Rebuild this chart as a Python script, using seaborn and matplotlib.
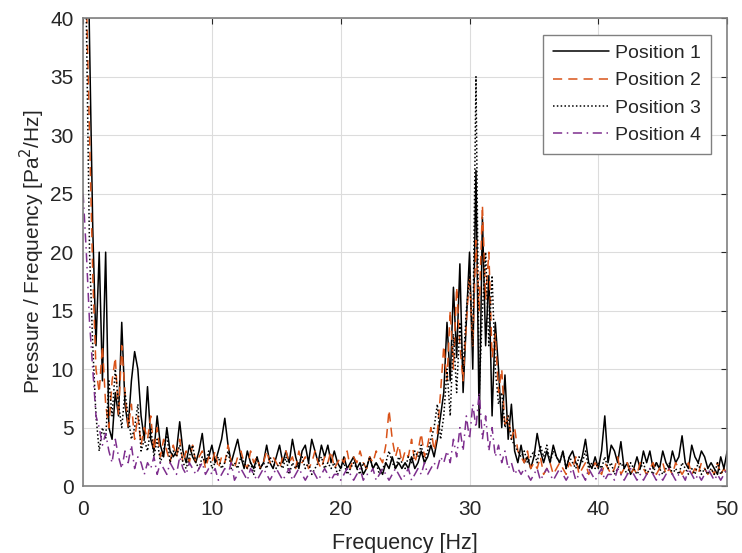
import matplotlib
matplotlib.use("Agg")
import matplotlib.pyplot as plt
import numpy as np
import pandas as pd
import seaborn as sns

# frequency grid [Hz], 0.25 Hz steps
freq = np.arange(0, 50.001, 0.25)

pos1 = [
    60, 55, 38, 22, 12, 20, 9, 20, 5, 4, 8, 6, 14, 7, 5, 9, 11.5, 10, 6, 4,
    8.5, 4, 3, 6, 3.5, 2.5, 5, 3, 2.5, 3, 5.5, 3, 2, 3.5, 2.5, 2, 3, 4.5, 2, 2.5,
    3.5, 2, 3, 4, 5.8, 3.5, 2, 3, 4, 2.5, 1.5, 3, 2, 1.5, 2.5, 1.5, 2, 3.5, 2, 1.5,
    2.5, 3.5, 2, 3, 2, 4, 2.5, 1.5, 3, 3.5, 2, 4, 3, 2, 3.5, 2.5, 3.5, 2, 3, 2,
    1.5, 2.5, 1.5, 2, 2.5, 1.5, 2, 1, 1.5, 2.5, 1.5, 2, 1.5, 1, 2, 1.5, 2.5, 1.5, 2, 1.5,
    2, 1.5, 2.5, 1.5, 2, 3, 2, 2.5, 3.5, 2.5, 4, 6, 8, 14, 9, 17, 11, 19, 8, 14,
    20, 10, 27, 5, 23, 12, 18, 6, 14, 10, 5, 9.5, 4, 7, 3, 2, 3.5, 2, 2.5, 1.5,
    2.5, 4.5, 3, 2, 3, 2, 3.5, 2.5, 2, 3, 1.5, 2.5, 3, 2, 1.5, 2.5, 4, 2, 1.5, 2.5,
    1.5, 3, 6, 2, 3.5, 3, 2, 3.8, 1.5, 2, 1, 1.5, 2.5, 1.5, 3, 2, 3, 1.5, 2, 1.5,
    3, 2, 1.5, 3, 2, 2.5, 4.3, 2, 1.5, 3.5, 2.5, 2, 3, 2.5, 1.5, 2, 1.5, 1, 2.5, 1.5, 3,
]

pos2 = [
    45, 42, 30, 18, 10, 8, 12, 7, 5, 9, 11, 6, 12, 8, 5, 7, 4, 6, 3.5, 5,
    4, 6, 3, 5, 2.5, 4, 3, 2, 3.5, 2.5, 4, 2, 3, 2, 3.5, 2, 2.5, 3, 1.5, 2.5,
    2, 3, 1.5, 2.5, 2, 3.5, 2, 1.5, 2.5, 3, 2, 1.5, 3, 2, 2.5, 1.5, 2, 3, 2, 2.5,
    2, 1.5, 2.5, 3, 2, 2.5, 1.5, 3, 2, 2.5, 1.5, 2, 3, 2, 1.5, 2.5, 2, 3, 1.5, 2,
    2.5, 2, 3, 1.5, 2.5, 2, 3, 2, 1.5, 2.5, 2, 3, 2.5, 2, 3.5, 6.5, 4, 2.5, 3.5, 2,
    3, 2.5, 4, 2, 3, 4.5, 2.5, 3.5, 5, 3, 4.5, 8, 12, 9, 15, 10, 17, 12, 9, 14,
    18, 12, 21, 15, 24, 16, 20, 11, 13, 8, 10, 5, 6, 4, 5, 3, 2.5, 2, 3, 1.5,
    2, 1.5, 2.5, 1, 1.5, 2, 1, 1.5, 2, 1.5, 1, 2, 1.5, 2.5, 1, 1.5, 2, 1, 1.5, 2,
    1.5, 1, 2, 1.5, 1, 1.5, 2.5, 1, 1.5, 2, 1, 1.5, 1, 2, 1.5, 1, 1.5, 2, 1, 1.5,
    2, 1, 1.5, 1, 2, 1.5, 1, 1.5, 2, 1, 1.5, 1, 2, 1.5, 1, 1.5, 1, 2, 1, 1.5, 1,
]

pos3 = [
    50, 40, 20, 12, 6, 3, 5, 4, 9, 6, 10, 7, 5, 8, 6, 4, 5, 7, 3, 4,
    3, 5, 2.5, 4, 2, 3, 4.5, 2, 3, 2.5, 3.5, 2, 1.5, 2.5, 3.5, 2, 1.5, 2.5, 2, 3,
    1.5, 2, 2.5, 1.5, 2, 3, 1.5, 2, 1.5, 2.5, 2, 1.5, 2, 1, 2.5, 1.5, 2, 1.5, 2.5, 2,
    1.5, 2, 1.5, 2.5, 1, 2, 1.5, 2, 2.5, 1.5, 2, 1, 1.5, 2, 2.5, 1.5, 2, 1.5, 2, 1,
    1.5, 2, 1, 1.5, 2, 1.5, 1, 2, 1.5, 2.5, 1.5, 2, 1, 1.5, 2, 3, 2, 1.5, 2.5, 2,
    1.5, 2.5, 2, 3, 2.5, 3.5, 2, 3, 4, 5, 7, 4, 6, 10, 6, 13, 8, 14, 10, 15,
    18, 12, 35, 8, 15, 20, 12, 18, 10, 7, 8, 5, 6, 4, 3.5, 3, 2.5, 3, 2, 2.5,
    3, 2, 3.5, 2.5, 3.5, 2, 3, 2.5, 2, 3, 1.5, 2.5, 2, 1.5, 2.5, 2, 3, 1.5, 2, 1.5,
    2, 1.5, 2.5, 1.5, 2, 1, 1.5, 2, 1.5, 1, 2, 1.5, 1, 1.5, 2, 1, 1.5, 1, 2, 1.5,
    1, 1.5, 2, 1, 1.5, 1, 2, 1.5, 1, 1.5, 1, 2, 1, 1.5, 1, 1.5, 1, 2, 1, 1.5, 1,
]

pos4 = [
    25, 20, 14, 10, 6, 5, 3.5, 4.5, 3, 2, 4, 2.5, 1.5, 3, 2, 3.5, 1.5, 2.5, 2, 1,
    2, 1.5, 2.5, 1, 2, 1.5, 1, 2, 1.5, 1, 2.5, 1.5, 1, 2, 1.5, 1, 1.5, 2, 1, 1.5,
    1, 1.5, 0.5, 1, 1.5, 1, 2, 0.5, 1, 1.5, 1, 0.5, 1.5, 1, 0.5, 1, 1.5, 1, 0.5, 1,
    1.5, 1, 0.5, 1, 1.5, 0.5, 1, 1.5, 1, 0.5, 1, 1.5, 1, 0.5, 1, 1.5, 1, 0.5, 1, 1,
    0.5, 1, 1.5, 1, 0.5, 1, 1.5, 0.5, 1, 1, 1.5, 0.5, 1, 1.5, 1, 0.5, 1, 1.5, 1, 0.5,
    1, 1.5, 0.5, 1, 1.5, 1, 2, 1, 1.5, 2, 1.5, 2.5, 2, 3, 2, 4, 2.5, 5, 3, 6,
    4, 7, 5, 8, 4, 6, 3, 5, 2.5, 3.5, 2, 3, 1.5, 2, 1, 1.5, 1, 1.5, 1, 0.5,
    1, 1.5, 0.5, 1, 1.5, 1, 0.5, 1, 1.5, 1, 0.5, 1, 1.5, 0.5, 1, 1, 0.5, 1.5, 1, 0.5,
    1, 1.5, 0.5, 1, 1, 0.5, 1.5, 1, 0.5, 1, 1.5, 1, 0.5, 1, 0.5, 1, 1.5, 1, 0.5, 1,
    0.5, 1, 1.5, 1, 0.5, 1, 1, 0.5, 1.5, 1, 0.5, 1, 0.5, 1, 1.5, 1, 0.5, 1, 0.5, 1, 1.5,
]

labels = ["Position 1", "Position 2", "Position 3", "Position 4"]
colors = ["#000000", "#D95319", "#000000", "#7E2F8E"]
styles = ["-", (0, (6, 4)), (0, (1, 1.5)), (0, (6, 3, 1, 3))]

sns.set_style("white")
plt.rcParams['font.family'] = ['Liberation Sans', 'DejaVu Sans']

fig = plt.figure(figsize=(7.42, 5.53), dpi=100)
ax = fig.add_axes([0.112, 0.121, 0.868, 0.846])

for vals, lab, col, ls in zip([pos1, pos2, pos3, pos4], labels, colors, styles):
    df = pd.DataFrame({"f": freq, "p": vals})
    sns.lineplot(data=df, x="f", y="p", ax=ax, color=col, linestyle=ls,
                 linewidth=1.1, label=lab)

ax.set_xlim(0, 50)
ax.set_ylim(0, 40)
ax.set_xticks(range(0, 51, 10))
ax.set_yticks(range(0, 41, 5))
ax.grid(True, color="#dcdcdc", linewidth=0.8)
ax.set_axisbelow(True)
ax.tick_params(direction="in", top=True, right=True, labelsize=15,
               colors="#262626", length=4, width=0.8)
ax.tick_params(axis="x", pad=10)
ax.tick_params(axis="y", pad=7)
for s in ax.spines.values():
    s.set_color("#808080")
    s.set_linewidth(1.2)

ax.set_xlabel("Frequency [Hz]", fontsize=15.5, color="#262626", labelpad=10)
ax.set_ylabel("Pressure / Frequency [Pa$^2$/Hz]", fontsize=15,
              color="#262626", labelpad=2)

leg = ax.legend(loc="upper right", fontsize=14, handlelength=2.9,
                fancybox=False, framealpha=1, borderaxespad=0.85,
                labelspacing=0.5, handletextpad=0.3, borderpad=0.5)
leg.get_frame().set_edgecolor("#808080")
leg.get_frame().set_linewidth(1.0)

fig.savefig("out.png", dpi=100)
